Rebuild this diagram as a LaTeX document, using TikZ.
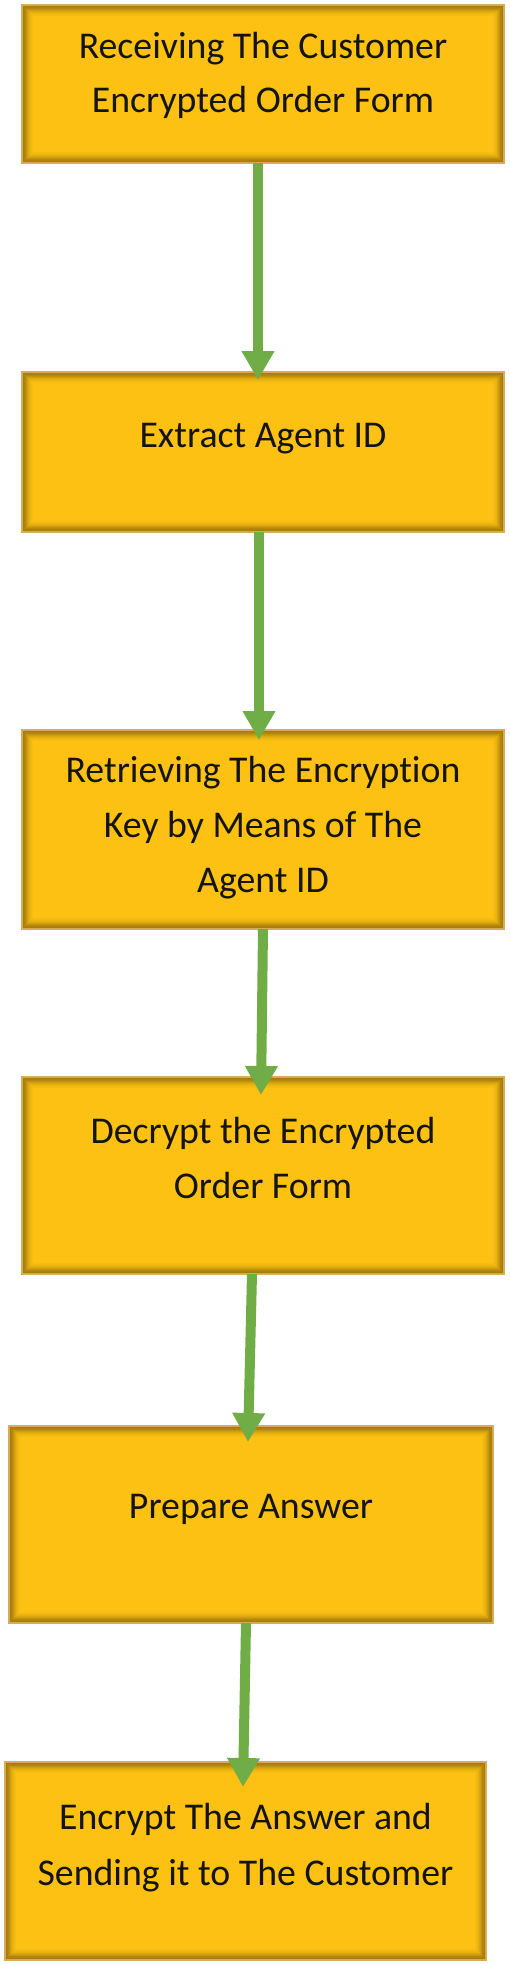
\documentclass[tikz,border=0pt]{standalone}
\usepackage{fontspec}
\setmainfont{Carlito}[Ligatures=NoCommon]
\usetikzlibrary{arrows.meta,calc}
\definecolor{boxgold}{RGB}{252,193,18}
\definecolor{rim}{RGB}{214,172,88}
\definecolor{rimshade}{RGB}{110,80,10}
\definecolor{arrowgreen}{RGB}{112,173,71}
\definecolor{inkdark}{RGB}{20,20,10}
\tikzset{
  flowbox/.style={rectangle, draw=rim, line width=1.5pt, fill=boxgold, inner sep=0pt, outer sep=0pt,
    anchor=north west,
    path picture={
      \foreach \d/\o in {0.5/0.6,1.5/0.6,2.5/0.55,3.5/0.5,4.5/0.4,5.5/0.3,6.5/0.22,7.5/0.15,8.5/0.1,9.5/0.06,10.5/0.03}{
        \draw[draw=rimshade, draw opacity=\o, line width=1pt]
          ([xshift=\d pt, yshift=-\d pt]path picture bounding box.north west) rectangle
          ([xshift=-\d pt, yshift=\d pt]path picture bounding box.south east);
      }}},
  linetext/.style={anchor=base, font=\fontsize{37.8}{44}\selectfont, text=inkdark, inner sep=0pt},
  flowarrow/.style={draw=arrowgreen, line width=10pt, -{Triangle[width=31pt,length=29pt]}, fill=arrowgreen}
}
\begin{document}
\begin{tikzpicture}[x=1pt, y=-1pt]
\useasboundingbox (0,0) rectangle (510,1964);
\fill[white] (0,0) rectangle (510,1964);

\node[flowbox, minimum width=482pt, minimum height=158pt] (b1) at (22,5) {};
\node[flowbox, minimum width=482pt, minimum height=160pt] (b2) at (22,372) {};
\node[flowbox, minimum width=482pt, minimum height=199pt] (b3) at (22,730) {};
\node[flowbox, minimum width=482pt, minimum height=197pt] (b4) at (22,1077) {};
\node[flowbox, minimum width=484pt, minimum height=197pt] (b5) at (9,1426) {};
\node[flowbox, minimum width=481pt, minimum height=198pt] (b6) at (5,1762) {};

\node[linetext] (t1a) at (263,59) {Receiving The Customer};
\node[linetext] (t1b) at (263,113) {Encrypted Order Form};
\node[linetext] (t2a) at (263,447) {Extract Agent ID};
\node[linetext] (t3a) at (263,782) {Retrieving The Encryption};
\node[linetext] (t3b) at (263,837) {Key by Means of The};
\node[linetext] (t3c) at (263,892) {Agent ID};
\node[linetext] (t4a) at (263,1143) {Decrypt the Encrypted};
\node[linetext] (t4b) at (263,1198) {Order Form};
\node[linetext] (t5a) at (251,1518) {Prepare Answer};
\node[linetext] (t6a) at (245.5,1829) {Encrypt The Answer and};
\node[linetext] (t6b) at (245.5,1885) {Sending it to The Customer};

\draw[flowarrow] ([xshift=-5pt]b1.south) -- ([xshift=-5pt, yshift=-8pt]b2.north);
\draw[flowarrow] ([xshift=-4pt]b2.south) -- ([xshift=-4pt, yshift=-10pt]b3.north);
\draw[flowarrow] ([xshift=0pt]b3.south) -- ([xshift=-2pt, yshift=-18pt]b4.north);
\draw[flowarrow] ([xshift=-11pt]b4.south) -- ([xshift=-3pt, yshift=-16pt]b5.north);
\draw[flowarrow] ([xshift=-5pt]b5.south) -- ([xshift=-2.5pt, yshift=-25pt]b6.north);
\end{tikzpicture}
\end{document}
